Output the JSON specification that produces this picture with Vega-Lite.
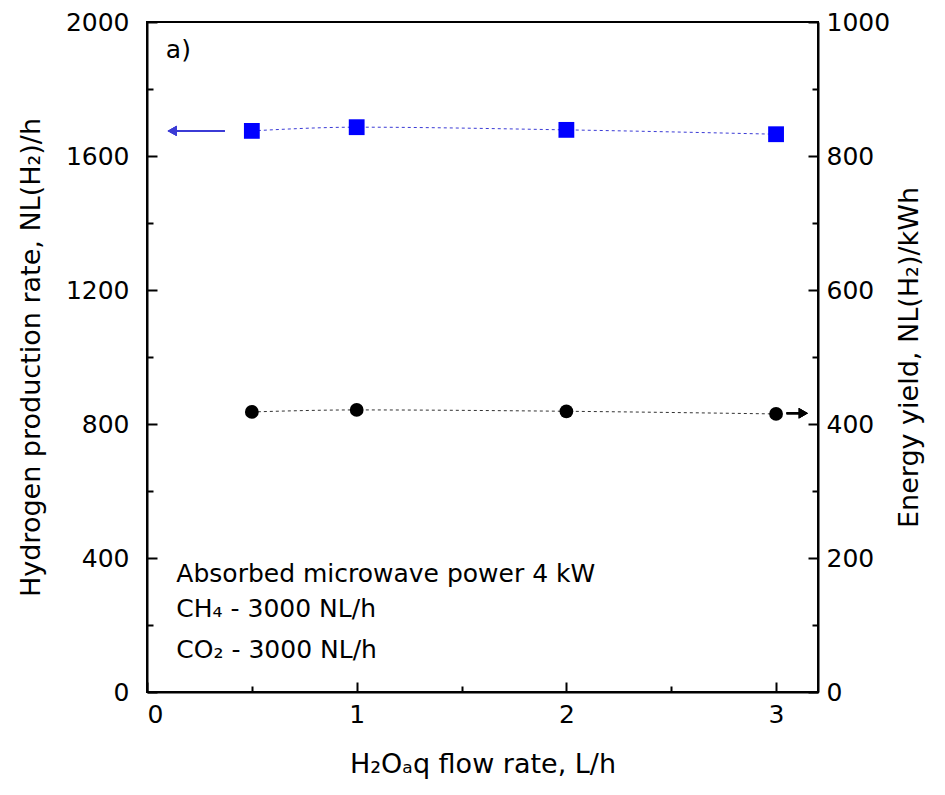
{
  "$schema": "https://vega.github.io/schema/vega-lite/v6.json",
  "width": 671,
  "height": 670,
  "autosize": {"type": "none"},
  "padding": {"left": 147, "top": 22, "right": 127, "bottom": 103},
  "background": "white",
  "config": {
    "view": {"stroke": "black", "strokeWidth": 2},
    "font": "DejaVu Sans",
    "axis": {"grid": false, "domainColor": "black", "domainWidth": 2, "tickColor": "black", "tickWidth": 2, "labelColor": "black", "titleColor": "black", "labelFont": "DejaVu Sans", "titleFont": "DejaVu Sans", "labelFontSize": 25, "titleFontSize": 27, "titleFontWeight": "normal"}
  },
  "datasets": {
    "pts": [
      {"x": 0.5, "h2": 1675, "ey": 418},
      {"x": 1, "h2": 1686, "ey": 421},
      {"x": 2, "h2": 1678, "ey": 419},
      {"x": 3, "h2": 1665, "ey": 415}
    ],
    "notes": [
      {"x": 0.09, "y": 1915, "t": "a)"},
      {"x": 0.14, "y": 352, "t": "Absorbed microwave power 4 kW"},
      {"x": 0.14, "y": 248, "t": "CH₄ - 3000 NL/h"},
      {"x": 0.14, "y": 125, "t": "CO₂ - 3000 NL/h"}
    ]
  },
  "encoding": {
    "x": {
      "field": "x", "type": "quantitative",
      "scale": {"domain": [0, 3.2], "nice": false, "zero": false},
      "axis": {
        "values": [0, 0.5, 1, 1.5, 2, 2.5, 3],
        "labelExpr": "datum.value % 1 === 0 ? format(datum.value, 'd') : ''",
        "tickSize": {"condition": {"test": "datum.value % 1 === 0", "value": -10}, "value": -6},
        "labelPadding": 20,
        "title": "H₂Oₐq flow rate, L/h",
        "titlePadding": 24
      }
    }
  },
  "layer": [
    {
      "data": {"name": "pts"},
      "encoding": {
        "y": {
          "field": "h2", "type": "quantitative",
          "scale": {"domain": [0, 2000], "nice": false},
          "axis": {
            "values": [0, 200, 400, 600, 800, 1000, 1200, 1400, 1600, 1800, 2000],
            "labelExpr": "datum.value % 400 === 0 ? format(datum.value, 'd') : ''",
            "tickSize": {"condition": {"test": "datum.value % 400 === 0", "value": -10}, "value": -6},
            "labelPadding": 28,
            "title": "Hydrogen production rate, NL(H₂)/h",
            "titlePadding": 20
          }
        }
      },
      "layer": [
        {"mark": {"type": "line", "color": "#3b3bd6", "strokeWidth": 1, "strokeDash": [3, 3], "interpolate": "monotone"}, "encoding": {}},
        {"mark": {"type": "point", "shape": "square", "filled": true, "color": "#0000ff", "size": 250, "opacity": 1}, "encoding": {}},
        {"mark": {"type": "rule", "color": "#3b3bd6", "strokeWidth": 2}, "encoding": {"x": {"datum": 0.37}, "x2": {"datum": 0.13}, "y": {"datum": 1675}}},
        {"mark": {"type": "point", "shape": "triangle-left", "filled": true, "color": "#3b3bd6", "size": 110, "opacity": 1}, "encoding": {"x": {"datum": 0.12}, "y": {"datum": 1675}}},
        {
          "data": {"name": "notes"},
          "mark": {"type": "text", "align": "left", "baseline": "middle", "fontSize": 25, "color": "black", "font": "DejaVu Sans"},
          "encoding": {"x": {"field": "x", "type": "quantitative"}, "y": {"field": "y", "type": "quantitative"}, "text": {"field": "t"}}
        }
      ]
    },
    {
      "data": {"name": "pts"},
      "encoding": {
        "y": {
          "field": "ey", "type": "quantitative",
          "scale": {"domain": [0, 1000], "nice": false},
          "axis": {
            "orient": "right",
            "values": [0, 100, 200, 300, 400, 500, 600, 700, 800, 900, 1000],
            "labelExpr": "datum.value % 200 === 0 ? format(datum.value, 'd') : ''",
            "tickSize": {"condition": {"test": "datum.value % 200 === 0", "value": -10}, "value": -6},
            "labelPadding": 18,
            "title": "Energy yield, NL(H₂)/kWh",
            "titleAngle": 270,
            "titleBaseline": "bottom",
            "titlePadding": 34
          }
        }
      },
      "layer": [
        {"mark": {"type": "line", "color": "#333333", "strokeWidth": 1, "strokeDash": [3, 3], "interpolate": "monotone"}, "encoding": {}},
        {"mark": {"type": "point", "shape": "circle", "filled": true, "color": "black", "size": 190, "opacity": 1}, "encoding": {}},
        {"mark": {"type": "rule", "color": "black", "strokeWidth": 2}, "encoding": {"x": {"datum": 3.05}, "x2": {"datum": 3.12}, "y": {"datum": 416}}},
        {"mark": {"type": "point", "shape": "triangle-right", "filled": true, "color": "black", "size": 110, "opacity": 1}, "encoding": {"x": {"datum": 3.13}, "y": {"datum": 416}}}
      ]
    }
  ],
  "resolve": {"scale": {"y": "independent"}}
}
